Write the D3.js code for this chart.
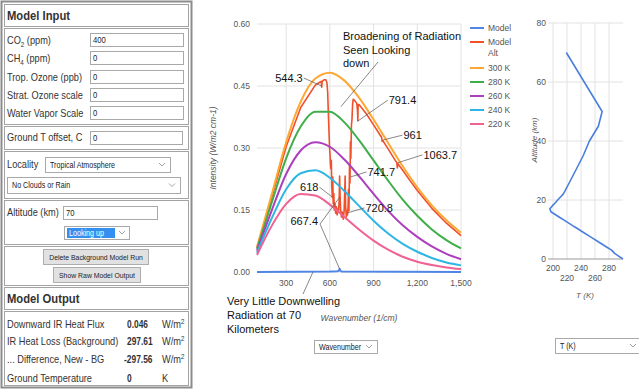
<!DOCTYPE html>
<html>
<head>
<meta charset="utf-8">
<script src="https://cdn.jsdelivr.net/npm/d3@7"></script>
<style>
body { margin: 0; background: #fff; }
svg { display: block; font-family: "Liberation Sans", Arial, sans-serif; }
</style>
</head>
<body>
<svg id="page" width="639" height="389"></svg>
<script>
// SPECTRUM DATA
var wavenumbers = [100, 200, 300, 400, 500, 600, 700, 800, 900, 1000, 1100, 1200, 1300, 1400, 1500];
var curve300 = [0.061, 0.186, 0.314, 0.412, 0.468, 0.482, 0.463, 0.422, 0.369, 0.312, 0.256, 0.205, 0.161, 0.125, 0.095];
var curve280 = [0.056, 0.167, 0.275, 0.352, 0.388, 0.388, 0.362, 0.319, 0.270, 0.221, 0.175, 0.136, 0.103, 0.077, 0.057];
var curve260 = [0.051, 0.148, 0.237, 0.294, 0.314, 0.303, 0.272, 0.232, 0.189, 0.148, 0.113, 0.085, 0.062, 0.044, 0.031];
var curve240 = [0.046, 0.129, 0.200, 0.239, 0.246, 0.228, 0.196, 0.160, 0.124, 0.093, 0.068, 0.049, 0.034, 0.023, 0.016];
var curve220 = [0.041, 0.111, 0.165, 0.189, 0.185, 0.163, 0.133, 0.103, 0.076, 0.054, 0.037, 0.025, 0.017, 0.011, 0.007];

var altWavenumbers = [100, 200, 300, 400, 500, 530, 541, 544, 547, 560, 572, 580, 585, 589, 594, 598, 601, 604, 607, 610,
    613, 617, 620, 623, 627, 631, 635, 640, 645, 650, 655, 660, 664, 667, 670, 674, 680, 686, 692, 698,
    702, 705, 708, 713, 718, 721, 725, 728, 731, 735, 738, 741, 744, 748, 752, 756, 760, 770, 785, 790,
    792, 794, 800, 850, 900, 940, 955, 959, 963, 1000, 1040, 1060, 1063, 1067, 1100, 1150, 1200, 1300, 1400, 1500];
var altIntensity = [0.058, 0.179, 0.303, 0.398, 0.452, 0.459, 0.461, 0.447, 0.461, 0.465, 0.465, 0.458, 0.435, 0.39, 0.34, 0.30, 0.285, 0.26, 0.25, 0.27,
    0.21, 0.18, 0.23, 0.165, 0.19, 0.15, 0.165, 0.142, 0.158, 0.138, 0.152, 0.148, 0.175, 0.232, 0.185, 0.15, 0.133, 0.145, 0.128, 0.148,
    0.195, 0.232, 0.16, 0.133, 0.148, 0.138, 0.158, 0.2, 0.148, 0.26, 0.215, 0.315, 0.275, 0.355, 0.37, 0.405, 0.418, 0.415, 0.408, 0.39,
    0.366, 0.405, 0.405, 0.383, 0.356, 0.334, 0.326, 0.316, 0.318, 0.298, 0.275, 0.264, 0.252, 0.262, 0.246, 0.221, 0.197, 0.154, 0.118, 0.088];

var modelWavenumbers = [100, 600, 655, 664, 667, 670, 680, 1500];
var modelIntensity = [0, 0.001, 0.002, 0.004, 0.008, 0.004, 0.001, 0];

var seriesNames = ["Model", "Model Alt", "300 K", "280 K", "260 K", "240 K", "220 K"];
var seriesColors = ["#4f86e6", "#f0502a", "#ffa733", "#3fae49", "#ab3fbc", "#2db6e4", "#f06292"];
var xTicks = [300, 600, 900, 1200, 1500];
var yTicks = [0, 0.15, 0.30, 0.45, 0.60];

// Annotated peaks: label, wavenumber, intensity of the pointed feature
var peakLabels = ["544.3", "791.4", "961", "1063.7", "741.7", "618", "720.8"];
var peakWavenumbers = [544.3, 791.4, 961, 1063.7, 741.7, 618, 720.8];
var peakIntensity = [0.45, 0.365, 0.319, 0.264, 0.23, 0.181, 0.143];

// TEMPERATURE PROFILE DATA
var profileAltitude = [0, 1, 2, 3, 4, 5, 6, 7, 8, 9, 10, 11, 12, 13, 14, 15, 16, 17, 18, 19, 20, 21, 22, 23, 24, 25, 30, 35, 40, 45, 50, 70];
var profileTemp = [300, 293.7, 287.7, 283.7, 277, 270.3, 263.6, 257, 250.3, 243.6, 237, 230.1, 223.6, 217, 210.3, 203.7, 197, 195.5,
    199, 203, 206.7, 210.7, 214.6, 217, 219.2, 221.4, 232.3, 243.1, 252, 264.8, 270.2, 219];
var tempTicks = [200, 220, 240, 260, 280];
var altTicks = [0, 20, 40, 60, 80];

// PANEL TEXT
var inputLabels = ["CO2 (ppm)", "CH4 (ppm)", "Trop. Ozone (ppb)", "Strat. Ozone scale", "Water Vapor Scale"];
var inputValues = ["400", "0", "0", "0", "0"];
var outputLabels = ["Downward IR Heat Flux", "IR Heat Loss (Background)", "... Difference, New - BG", "Ground Temperature"];
var outputValues = ["0.046", "297.61", "-297.56", "0"];
var outputUnits = ["W/m2", "W/m2", "W/m2", "K"];


var svg = d3.select("#page");

// HELPERS
function box(g, x, y, w, h, fill, stroke) {
    return g.append("rect")
        .attr("x", x + 0.5).attr("y", y + 0.5)
        .attr("width", w).attr("height", h)
        .attr("fill", fill).attr("stroke", stroke);
}

// Text squeezed a bit sideways, like the narrow UI font in the screenshot
function label(g, x, y, size, str, sx) {
    var t = g.append("text")
        .attr("transform", "translate(" + x + "," + y + ") scale(" + (sx || 0.88) + ",1)")
        .attr("font-size", size).attr("fill", "#333");
    if (str) t.text(str);
    return t;
}

function chevron(g, cx, cy) {
    g.append("path")
        .attr("d", "M" + (cx - 3) + "," + (cy - 1.5) + "L" + cx + "," + (cy + 1.5) + "L" + (cx + 3) + "," + (cy - 1.5))
        .attr("fill", "none").attr("stroke", "#8a8a8a").attr("stroke-width", 0.8);
}

function selectBox(g, x, y, w, h, text) {
    box(g, x, y, w, h, "#fff", "#a9a9a9");
    label(g, x + 5, y + h / 2 + 3, 8.5, text, 0.84).attr("fill", "#222");
    chevron(g, x + w - 8, y + h / 2);
}

function inputBox(g, x, y, w, value) {
    box(g, x, y, w, 13, "#fff", "#a9a9a9");
    label(g, x + 3, y + 10, 8.5, value, 0.9).attr("fill", "#222");
}


// LEFT PANEL
var panel = svg.append("g");
panel.append("rect").attr("x", 1.5).attr("y", 1.5).attr("width", 190).attr("height", 386)
    .attr("fill", "none").attr("stroke", "#8c8c8c").attr("stroke-width", 2);

var cells = [[4, 26], [28, 124], [126, 149], [151, 198], [200, 244], [246, 285], [287, 309], [311, 385]];
cells.forEach(function(c) {
    box(panel, 4, c[0], 184, c[1] - c[0], "none", "#a3a3a3");
});

label(panel, 7, 20, 12.5, "Model Input", 0.9).attr("font-weight", "bold");
label(panel, 7, 303, 12.5, "Model Output", 0.9).attr("font-weight", "bold");

var rowY = [40, 58, 77, 95, 113];
inputLabels.forEach(function(lbl, i) {
    var t = label(panel, 7, rowY[i] + 4, 10.5);
    if (i < 2) {
        var k = lbl.indexOf(" ");
        t.append("tspan").text(lbl.slice(0, 2));
        t.append("tspan").attr("font-size", 7).attr("dy", 2.5).text(lbl.slice(2, k));
        t.append("tspan").attr("dy", -2.5).text(lbl.slice(k));
    } else {
        t.text(lbl);
    }
    inputBox(panel, 90, rowY[i] - 7, 93, inputValues[i]);
});

label(panel, 7, 141, 10.5, "Ground T offset, C");
inputBox(panel, 90, 131, 92, "0");

label(panel, 7, 168, 10.5, "Locality");
selectBox(panel, 45, 157, 125, 15, "Tropical Atmosphere");
selectBox(panel, 7, 177, 173, 16, "No Clouds or Rain");

label(panel, 7, 216, 10.5, "Altitude (km)");
inputBox(panel, 63, 206, 94, "70");

box(panel, 64, 226, 65, 13, "#fff", "#a9a9a9");
panel.append("rect").attr("x", 67).attr("y", 228).attr("width", 48).attr("height", 10).attr("fill", "#3390f0");
label(panel, 69, 236, 8.5, "Looking up", 0.84).attr("fill", "#fff");
chevron(panel, 122, 232.5);

var buttons = [["Delete Background Model Run", 43, 249, 105], ["Show Raw Model Output", 53, 267, 87]];
buttons.forEach(function(b) {
    box(panel, b[1], b[2], b[3], 15, "#e1e1e1", "#adadad");
    label(panel, b[1] + b[3] / 2 + 0.5, b[2] + 11, 8, b[0], 0.86)
        .attr("text-anchor", "middle").attr("fill", "#222");
});

var outY = [324, 341, 359, 378];
outputLabels.forEach(function(lbl, i) {
    label(panel, 7, outY[i] + 4, 10.5, lbl);
    label(panel, outputValues[i][0] == "-" ? 124 : 127, outY[i] + 4, 10.5, outputValues[i], 0.8)
        .attr("font-weight", "bold");
    var u = label(panel, 162, outY[i] + 4, 10.5);
    if (outputUnits[i] == "W/m2") {
        u.append("tspan").text("W/m");
        u.append("tspan").attr("font-size", 7).attr("dy", -4).text("2");
    } else {
        u.text(outputUnits[i]);
    }
});


// MAIN SPECTRUM CHART
var x = d3.scaleLinear().domain([100, 1500]).range([257, 461]);
var y = d3.scaleLinear().domain([0, 0.6]).range([272, 24]);

var chart = svg.append("g");

chart.append("g").selectAll("line")
    .data(xTicks).enter().append("line")
        .attr("x1", d => x(d)).attr("x2", d => x(d))
        .attr("y1", y(0.6)).attr("y2", y(0))
        .attr("stroke", "#e2e2e2");
chart.append("g").selectAll("line")
    .data(yTicks).enter().append("line")
        .attr("x1", x(100)).attr("x2", x(1500))
        .attr("y1", d => y(d)).attr("y2", d => y(d))
        .attr("stroke", "#e2e2e2");

chart.append("g").selectAll("text")
    .data(yTicks).enter().append("text")
        .attr("x", 250).attr("y", d => y(d) + 3)
        .attr("text-anchor", "end").attr("font-size", 8.5).attr("fill", "#555")
        .text(d => d3.format(".2f")(d));
chart.append("g").selectAll("text")
    .data(xTicks).enter().append("text")
        .attr("x", d => x(d)).attr("y", 286)
        .attr("text-anchor", "middle").attr("font-size", 8.5).attr("fill", "#555")
        .text(d => d3.format(",")(d));

chart.append("text")
    .attr("transform", "translate(216,148) rotate(-90)")
    .attr("text-anchor", "middle").attr("font-size", 8.5).attr("font-style", "italic").attr("fill", "#555")
    .text("Intensity (W/m2 cm-1)");
chart.append("text")
    .attr("x", 359).attr("y", 321)
    .attr("text-anchor", "middle").attr("font-size", 8.5).attr("font-style", "italic").attr("fill", "#555")
    .text("Wavenumber (1/cm)");

var smooth = d3.line()
    .x(d => x(d[0]))
    .y(d => y(d[1]))
    .curve(d3.curveMonotoneX);
var jagged = d3.line()
    .x(d => x(d[0]))
    .y(d => y(d[1]));

var series = [
    { pts: d3.zip(modelWavenumbers, modelIntensity), line: jagged, width: 2 },
    { pts: d3.zip(altWavenumbers, altIntensity), line: jagged, width: 1.6 },
    { pts: d3.zip(wavenumbers, curve300), line: smooth, width: 2 },
    { pts: d3.zip(wavenumbers, curve280), line: smooth, width: 2 },
    { pts: d3.zip(wavenumbers, curve260), line: smooth, width: 2 },
    { pts: d3.zip(wavenumbers, curve240), line: smooth, width: 2 },
    { pts: d3.zip(wavenumbers, curve220), line: smooth, width: 2 }
];
series.forEach(function(s, i) {
    chart.append("path")
        .datum(s.pts)
        .attr("fill", "none")
        .attr("stroke", seriesColors[i])
        .attr("stroke-width", s.width)
        .attr("stroke-linejoin", "round")
        .attr("d", s.line);
});

// Legend
var legend = chart.append("g");
seriesNames.forEach(function(name, i) {
    var ly = 28 + i * 14 + (i >= 2 ? 12 : 0);
    legend.append("line")
        .attr("x1", 470).attr("x2", 484).attr("y1", ly).attr("y2", ly)
        .attr("stroke", seriesColors[i]).attr("stroke-width", 2);
    var words = name == "Model Alt" ? ["Model", "Alt"] : [name];
    words.forEach(function(w, j) {
        legend.append("text")
            .attr("x", 488).attr("y", ly + 3 + j * 11)
            .attr("font-size", 8.5).attr("fill", "#555").text(w);
    });
});

// Annotations
var notes = chart.append("g").attr("font-size", 11).attr("fill", "#111");
var peakOffsets = [[-18, -8], [30, -21], [20, -5], [25, -8], [16, -5], [-13, -10], [17, -5]];
peakLabels.forEach(function(lbl, i) {
    var tx = x(peakWavenumbers[i]), ty = y(peakIntensity[i]);
    var lx = tx + peakOffsets[i][0], ly = ty + peakOffsets[i][1];
    notes.append("line")
        .attr("x1", tx).attr("y1", ty).attr("x2", lx).attr("y2", ly)
        .attr("stroke", "#555").attr("stroke-width", 0.7);
    notes.append("text")
        .attr("x", peakOffsets[i][0] < 0 ? lx - 1 : lx + 1).attr("y", ly + 4)
        .attr("text-anchor", peakOffsets[i][0] < 0 ? "end" : "start")
        .text(lbl);
});

// 667.4 points at both the Model Alt spike and the Model spike
var q = [320, 224];
[[667.4, 0.181], [667.4, 0.007]].forEach(function(p) {
    notes.append("line")
        .attr("x1", q[0]).attr("y1", q[1]).attr("x2", x(p[0])).attr("y2", y(p[1]))
        .attr("stroke", "#555").attr("stroke-width", 0.7);
});
notes.append("text").attr("x", 318).attr("y", 225).attr("text-anchor", "end").text("667.4");

var broadening = ["Broadening of Radiation", "Seen Looking", "down"];
broadening.forEach(function(s, i) {
    notes.append("text").attr("x", 343).attr("y", 40 + i * 13.5).text(s);
});
notes.append("line")
    .attr("x1", 378).attr("y1", 62).attr("x2", x(676)).attr("y2", y(0.40))
    .attr("stroke", "#555").attr("stroke-width", 0.7);

var downwelling = ["Very Little Downwelling", "Radiation at 70", "Kilometers"];
downwelling.forEach(function(s, i) {
    notes.append("text").attr("x", 227).attr("y", 305 + i * 14).text(s);
});
notes.append("line")
    .attr("x1", 303).attr("y1", 294).attr("x2", x(484)).attr("y2", y(0))
    .attr("stroke", "#555").attr("stroke-width", 0.7);

selectBox(svg, 314, 340, 63, 13, "Wavenumber");


// TEMPERATURE PROFILE CHART
var tx = d3.scaleLinear().domain([200, 300]).range([553, 623]);
var ty = d3.scaleLinear().domain([0, 80]).range([259, 23]);
var prof = svg.append("g");

prof.append("g").selectAll("line")
    .data(tempTicks).enter().append("line")
        .attr("x1", d => tx(d)).attr("x2", d => tx(d))
        .attr("y1", ty(80)).attr("y2", ty(0))
        .attr("stroke", "#e2e2e2");
prof.append("g").selectAll("line")
    .data(altTicks).enter().append("line")
        .attr("x1", tx(200) - 5).attr("x2", tx(300))
        .attr("y1", d => ty(d)).attr("y2", d => ty(d))
        .attr("stroke", d => d == 0 ? "#999" : "#e2e2e2");

prof.append("g").selectAll("text")
    .data(altTicks).enter().append("text")
        .attr("x", 546).attr("y", d => ty(d) + 3)
        .attr("text-anchor", "end").attr("font-size", 8.5).attr("fill", "#555")
        .text(d => d);
prof.append("g").selectAll("text")
    .data(tempTicks).enter().append("text")
        .attr("x", d => tx(d)).attr("y", (d, i) => i % 2 == 0 ? 271 : 281)
        .attr("text-anchor", "middle").attr("font-size", 8.5).attr("fill", "#555")
        .text(d => d);

prof.append("text")
    .attr("transform", "translate(537,140) rotate(-90)")
    .attr("text-anchor", "middle").attr("font-size", 8).attr("font-style", "italic").attr("fill", "#555")
    .text("Altitude (km)");
prof.append("text")
    .attr("x", 585).attr("y", 298)
    .attr("text-anchor", "middle").attr("font-size", 8).attr("font-style", "italic").attr("fill", "#555")
    .text("T (K)");

prof.append("path")
    .datum(d3.zip(profileTemp, profileAltitude))
    .attr("fill", "none")
    .attr("stroke", "#4a7fdc")
    .attr("stroke-width", 1.6)
    .attr("stroke-linejoin", "round")
    .attr("d", d3.line().x(d => tx(d[0])).y(d => ty(d[1])));

selectBox(svg, 555, 338, 86, 15, "T (K)");
</script>
</body>
</html>
